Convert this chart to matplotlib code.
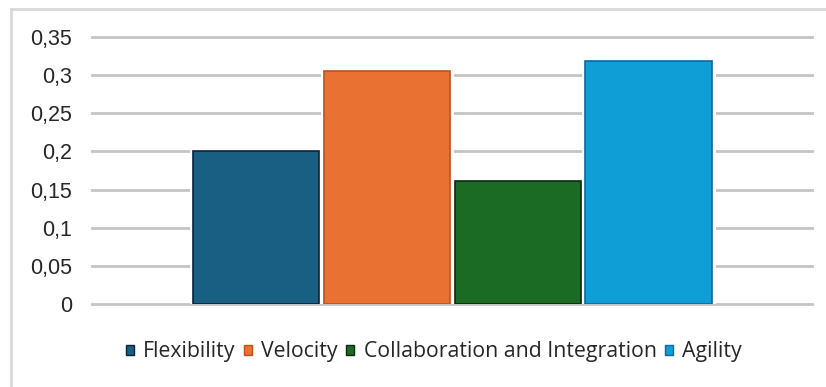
import matplotlib
matplotlib.use("Agg")
import matplotlib.pyplot as plt
from matplotlib.patches import Rectangle
from matplotlib.lines import Line2D

# Data
series = ["Flexibility", "Velocity", "Collaboration and Integration", "Agility"]
values = [0.200, 0.305, 0.161, 0.318]
y_ticks = [0, 0.05, 0.10, 0.15, 0.20, 0.25, 0.30, 0.35]
y_tick_labels = ["0", "0,05", "0,1", "0,15", "0,2", "0,25", "0,3", "0,35"]

face_colors = ["#185F83", "#E97132", "#1B6B25", "#0F9ED5"]
edge_colors = ["#0A2538", "#C0501C", "#0A2A0E", "#0B6A9E"]

W, H = 826, 387
fig = plt.figure(figsize=(W / 100, H / 100), dpi=100)
fig.patch.set_facecolor("white")

left, right = 92 / W, 812 / W
bottom, top = 1 - 304 / H, 1 - 37 / H
ax = fig.add_axes([left, bottom, right - left, top - bottom])

x = list(range(len(series)))
bar_w = 0.965

# white halo behind each bar so gridlines stop short of the bars
ax.bar(x, values, width=bar_w, color="white", edgecolor="white",
       linewidth=5, zorder=2)
bars = ax.bar(x, values, width=bar_w, color=face_colors,
              edgecolor=edge_colors, linewidth=1.2, zorder=3)

ax.set_xlim(-1.254, 4.25)
ax.set_ylim(0, 0.35)
ax.set_yticks(y_ticks)
ax.set_yticklabels(y_tick_labels, fontfamily="Liberation Sans",
                   fontsize=15.5, color="#262626")
ax.set_xticks([])
ax.tick_params(axis="y", length=0, pad=14.4)
ax.yaxis.grid(True, color="#C4C4C4", linewidth=2, zorder=1)
ax.set_axisbelow(True)
for sp in ax.spines.values():
    sp.set_visible(False)
for gl in ax.get_ygridlines():
    gl.set_clip_on(False)

# legend
handles = [Rectangle((0, 0), 1, 1, facecolor=fc, edgecolor=ec, linewidth=1)
           for fc, ec in zip(face_colors, edge_colors)]
fig.legend(handles, series, loc="center", bbox_to_anchor=(434 / W, 1 - 352 / H),
           ncol=4, frameon=False, handlelength=0.36, handleheight=0.36,
           handletextpad=0.45, columnspacing=0.4,
           prop={"family": "Open Sans", "size": 15.3}, labelcolor="#262626")

# chart frame (top and left edges)
frame_kw = dict(color="#D9D9D9", linewidth=2, transform=fig.transFigure)
fig.add_artist(Line2D([11 / W, 1], [1 - 9 / H, 1 - 9 / H], **frame_kw))
fig.add_artist(Line2D([11 / W, 11 / W], [0, 1 - 9 / H], **frame_kw))

fig.savefig("out.png", dpi=100, facecolor="white")
